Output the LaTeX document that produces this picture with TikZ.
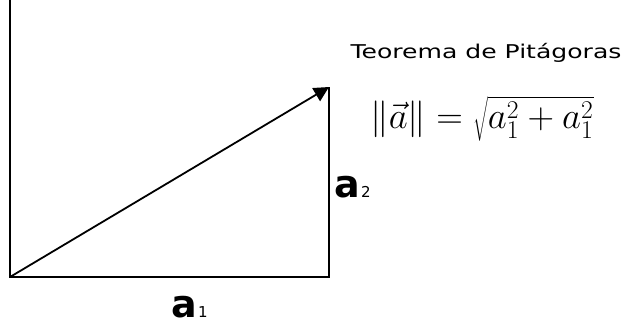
\documentclass[tikz,border=0pt]{standalone}
\usepackage{fontspec}
\setsansfont{DejaVu Sans}
\usetikzlibrary{arrows.meta}

\begin{document}
\begin{tikzpicture}[
  x = 1pt, y = -1pt,
  every node/.style = {inner sep=1pt},
  side/.style       = {draw, line width=1.8pt},
  vec/.style        = {draw, line width=1.8pt, -{Triangle[length=15pt, width=15pt]}},
  comp/.style       = {inner sep=0pt, font=\sffamily\bfseries\fontsize{38}{40}\selectfont},
  sub/.style        = {inner sep=0pt, font=\sffamily\fontsize{15}{17}\selectfont},
]
\useasboundingbox (0,0) rectangle (623,327);

% triangle corners
\coordinate (top) at ( 10,   0);
\coordinate (O)   at ( 10, 277);
\coordinate (C)   at (329, 277);
\coordinate (P)   at (329,  87);

\draw[side] (top) -- (O) -- (C) -- (P);
\draw[vec]  (O) -- (P);

% components
\node[comp] (a1) at (184, 307) {a};
\node[sub, anchor=base west] (s1) at ([xshift=1pt]a1.base east) {1};
\node[comp] (a2) at (347, 187) {a};
\node[sub, anchor=base west] (s2) at ([xshift=1pt]a2.base east) {2};

% formula
\node[xscale=1.32, transform shape, font=\sffamily\fontsize{19}{22}\selectfont]
  (title) at (486, 53) {Teorema de Pitágoras};
\node[scale=1.48, transform shape, font=\fontsize{24}{28}\selectfont]
  (pyth) at (482, 119) {$\|\vec{a}\| = \sqrt{a_1^2 + a_1^2}$};

\end{tikzpicture}
\end{document}
